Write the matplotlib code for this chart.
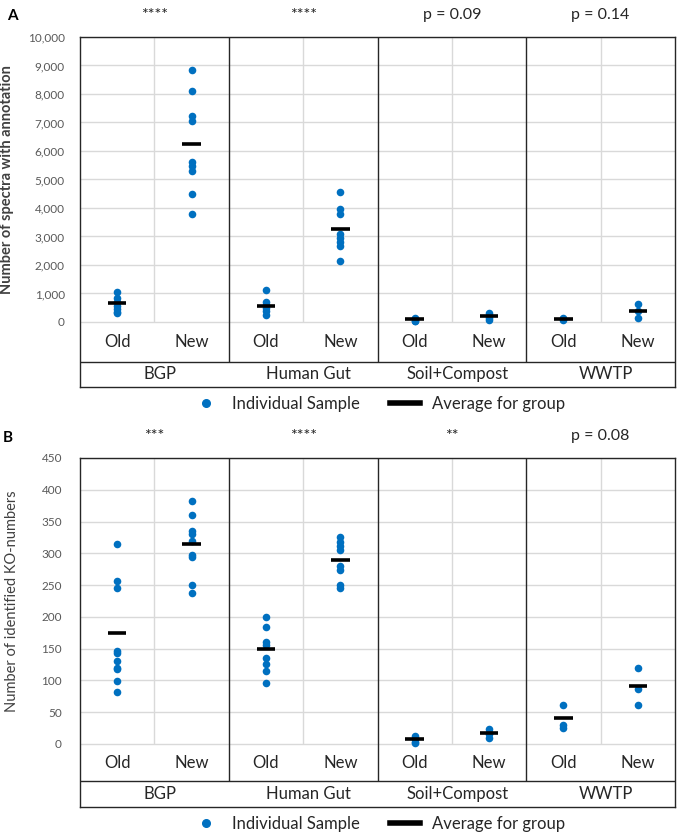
import matplotlib.pyplot as plt
from matplotlib.lines import Line2D
from matplotlib import transforms
from matplotlib.ticker import StrMethodFormatter
import numpy as np

plt.rcParams["font.family"] = ["Lato", "DejaVu Sans"]

W, H = 683, 840

groups = ["BGP", "Human Gut", "Soil+Compost", "WWTP"]
versions = ["Old", "New"]

# Panel A: number of spectra with annotation (one list per group)
spectra_old = [
    [1050, 850, 700, 550, 450, 350, 300],
    [1120, 700, 600, 500, 400, 250],
    [150, 100, 50, 20],
    [150, 100, 60],
]
spectra_new = [
    [8830, 8100, 7220, 7040, 5610, 5470, 5290, 4500, 3780],
    [4560, 3950, 3780, 3100, 2950, 2820, 2680, 2140],
    [300, 220, 150, 80],
    [620, 400, 150],
]
spectra_old_avg = [680, 560, 110, 110]
spectra_new_avg = [6250, 3250, 200, 390]
spectra_sig = ["****", "****", "p = 0.09", "p = 0.14"]

# Panel B: number of identified KO-numbers
ko_old = [
    [315, 257, 245, 147, 143, 131, 119, 118, 99, 82],
    [200, 184, 161, 155, 135, 126, 115, 96],
    [12, 8, 3, 1],
    [61, 30, 25],
]
ko_new = [
    [382, 360, 335, 330, 320, 297, 295, 250, 238],
    [326, 318, 312, 305, 280, 274, 250, 246],
    [23, 18, 15, 9],
    [120, 87, 61],
]
ko_old_avg = [174, 149, 8, 41]
ko_new_avg = [314, 290, 17, 91]
ko_sig = ["***", "****", "**", "p = 0.08"]

BLUE = "#0070C0"
GRID = "#D9D9D9"
DARK = "#262626"

fig = plt.figure(figsize=(W / 100, H / 100), dpi=100)


def draw_panel(top, zero, row1, bottom, ymax, ystep, old, new, old_avg, new_avg,
               sig, sig_base, ylabel, ylabel_weight, ylabel_x, tickpad,
               letter, letter_xy, legend_y):
    left, right = 80, 675
    ax = fig.add_axes([left / W, 1 - bottom / H, (right - left) / W, (bottom - top) / H])
    upp = ymax / (zero - top)
    ymin = -(bottom - zero) * upp
    y_row1 = -(row1 - zero) * upp

    ax.set_xlim(-0.5, 7.5)
    ax.set_ylim(ymin, ymax)
    ticks = np.arange(0, ymax + 1, ystep)
    ax.set_yticks(ticks)
    ax.set_xticks([])
    ax.yaxis.set_major_formatter(StrMethodFormatter("{x:,.0f}"))
    ax.tick_params(axis="y", length=0, pad=tickpad, labelsize=8.5, labelcolor="#595959")
    for s in ax.spines.values():
        s.set_color(DARK)
        s.set_linewidth(1)

    # light gridlines
    ax.hlines(ticks, -0.5, 7.5, color=GRID, lw=1, zorder=0)
    ax.vlines([0.5, 2.5, 4.5, 6.5], 0, ymax, color=GRID, lw=1, zorder=0)
    # group boxes of the category table
    ax.vlines([1.5, 3.5, 5.5], y_row1, ymax, color=DARK, lw=1, zorder=1)
    ax.hlines(y_row1, -0.5, 7.5, color=DARK, lw=1, zorder=1)

    sig_tr = transforms.blended_transform_factory(ax.transData, fig.transFigure)
    for i, g in enumerate(groups):
        xo, xn = 2 * i, 2 * i + 1
        ax.scatter([xo] * len(old[i]), old[i], s=30, color=BLUE, lw=0, zorder=3)
        ax.scatter([xn] * len(new[i]), new[i], s=30, color=BLUE, lw=0, zorder=3)
        ax.hlines(old_avg[i], xo - 0.125, xo + 0.125, color="black", lw=2.6, zorder=4)
        ax.hlines(new_avg[i], xn - 0.125, xn + 0.125, color="black", lw=2.6, zorder=4)
        for x, v in zip((xo, xn), versions):
            ax.text(x, y_row1 / 2, v, ha="center", va="center", fontsize=12, color=DARK)
        ax.text(2 * i + 0.57, (y_row1 + ymin) / 2, g, ha="center", va="center",
                fontsize=12, color=DARK)
        ax.text(2 * i + 0.5, 1 - sig_base / H, sig[i], transform=sig_tr,
                ha="center", va="baseline", fontsize=11.5, color=DARK)

    ax.set_ylabel(ylabel, fontsize=10.5, color="#404040", fontweight=ylabel_weight)
    ax.yaxis.set_label_coords((ylabel_x - left) / (right - left),
                              (bottom - (top + zero) / 2) / (bottom - top))

    fig.text(letter_xy[0] / W, 1 - letter_xy[1] / H, letter, fontsize=11,
             fontweight="bold", ha="center", va="center")

    handles = [
        Line2D([], [], marker="o", color=BLUE, linestyle="none", markersize=5.5),
        Line2D([], [], color="black", lw=4),
    ]
    fig.legend(handles, ["Individual Sample", "Average for group"], loc="center",
               bbox_to_anchor=(378 / W, 1 - legend_y / H), ncol=2, frameon=False,
               fontsize=12, handlelength=1.8, handletextpad=0.7, columnspacing=1.8,
               labelcolor=DARK)
    return ax


draw_panel(37, 322, 362, 387, 10000, 1000, spectra_old, spectra_new,
           spectra_old_avg, spectra_new_avg, spectra_sig, 19,
           "Number of spectra with annotation", "bold", 14, 11,
           "A", (12, 16), 404)

draw_panel(458, 744, 781, 807, 450, 50, ko_old, ko_new,
           ko_old_avg, ko_new_avg, ko_sig, 440,
           "Number of identified KO-numbers", "normal", 19, 13,
           "B", (8, 438), 824)

fig.savefig("out.png", dpi=100)
